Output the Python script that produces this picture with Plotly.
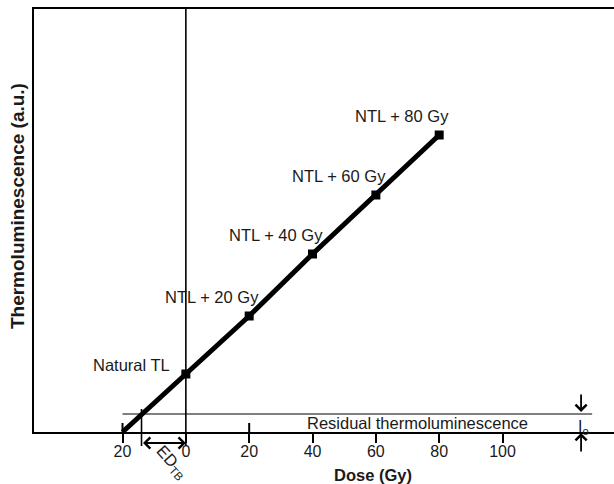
import plotly.graph_objects as go

# ---- data ----
dose_points = [0, 20, 40, 60, 80]                 # Gy added to natural
tl_points = [58, 116, 178, 237, 297]              # thermoluminescence (a.u.)
point_labels = ["Natural TL", "NTL + 20 Gy", "NTL + 40 Gy", "NTL + 60 Gy", "NTL + 80 Gy"]
extrap_dose = [-20, 0]                            # extrapolated line to the dose axis
extrap_tl = [0, 58]
residual_tl = 18                                  # residual thermoluminescence level I_o
ed_tb_dose = -14                                  # ED_TB intercept
tick_vals = [-20, 0, 20, 40, 60, 80, 100]
tick_text = ["20", "0", "20", "40", "60", "80", "100"]

X_RANGE = [-47.95, 135.2]
Y_RANGE = [0, 423]

FONT = "Arial, Liberation Sans, sans-serif"
TXT = "#1a1a1a"


def ypaper(v):
    return (v - Y_RANGE[0]) / (Y_RANGE[1] - Y_RANGE[0])


def xpaper(v):
    return (v - X_RANGE[0]) / (X_RANGE[1] - X_RANGE[0])


fig = go.Figure()

# extrapolated line segment
fig.add_trace(go.Scatter(x=extrap_dose, y=extrap_tl, mode="lines",
                         line=dict(color="black", width=5), hoverinfo="skip"))
# measured growth curve
fig.add_trace(go.Scatter(x=dose_points, y=tl_points, mode="lines+markers",
                         line=dict(color="black", width=5),
                         marker=dict(symbol="square", size=9, color="black")))

shapes = []
# vertical line at dose 0 (full height, extends below axis)
shapes.append(dict(type="line", xref="x", yref="paper", x0=0, x1=0,
                   y0=ypaper(-14), y1=1, line=dict(color="black", width=1.6)))
# residual TL horizontal line
shapes.append(dict(type="line", xref="x", yref="y", x0=-20, x1=128.3,
                   y0=residual_tl, y1=residual_tl, line=dict(color="black", width=1.2)))
# ED_TB bracket vertical
shapes.append(dict(type="line", xref="x", yref="paper", x0=ed_tb_dose, x1=ed_tb_dose,
                   y0=ypaper(-14), y1=ypaper(23), line=dict(color="black", width=1.6)))
# short ticks above the axis at -20 and 20
for tv in [-20, 20]:
    shapes.append(dict(type="line", xref="x", yref="y", x0=tv, x1=tv, y0=0, y1=9,
                       line=dict(color="black", width=2)))

annotations = []
# point labels
for i, (d, t, lab) in enumerate(zip(dose_points, tl_points, point_labels)):
    if i == 0:
        annotations.append(dict(x=d, y=t, xref="x", yref="y", text=lab, showarrow=False,
                                xanchor="right", yanchor="middle", xshift=-14, yshift=9,
                                font=dict(size=16.5, color=TXT, family=FONT)))
    else:
        annotations.append(dict(x=d, y=t, xref="x", yref="y", text=lab, showarrow=False,
                                xanchor="center", yanchor="middle", xshift=-37, yshift=19,
                                font=dict(size=16.5, color=TXT, family=FONT)))

# residual thermoluminescence text
annotations.append(dict(x=73.3, y=9, xref="x", yref="y", text="Residual thermoluminescence",
                        showarrow=False, xanchor="center", yanchor="middle",
                        font=dict(size=16.5, color=TXT, family=FONT)))
# I_o label
annotations.append(dict(x=125.6, y=ypaper(5), xref="x", yref="paper", text="I<sub>o</sub>",
                        showarrow=False, xanchor="center", yanchor="middle",
                        font=dict(size=16, color=TXT, family=FONT)))
# down arrow above residual line
annotations.append(dict(x=124.8, y=ypaper(20), xref="x", yref="paper",
                        ax=0, ay=-19, axref="pixel", ayref="pixel", text="",
                        showarrow=True, arrowhead=4, arrowsize=1.2, arrowwidth=1.8,
                        arrowcolor="black"))
# up arrow below axis
annotations.append(dict(x=124.8, y=ypaper(-1), xref="x", yref="paper",
                        ax=0, ay=20, axref="pixel", ayref="pixel", text="",
                        showarrow=True, arrowhead=4, arrowsize=1.2, arrowwidth=1.8,
                        arrowcolor="black"))
# ED_TB double arrow
annotations.append(dict(x=0, y=ypaper(-11), xref="x", yref="paper",
                        ax=ed_tb_dose, ay=0, axref="x", ayref="pixel", text="",
                        showarrow=True, arrowhead=4, startarrowhead=4, arrowside="end+start",
                        arrowsize=1.2, startarrowsize=1.2, arrowwidth=1.8, arrowcolor="black",
                        standoff=0, startstandoff=0))
# ED_TB text
annotations.append(dict(x=-4.5, y=ypaper(-30), xref="x", yref="paper", text="ED<sub>TB</sub>",
                        showarrow=False, textangle=48, xanchor="center", yanchor="middle",
                        font=dict(size=16.5, color=TXT, family=FONT)))
# axis titles
annotations.append(dict(x=59, y=ypaper(-43), xref="x", yref="paper", text="<b>Dose (Gy)</b>",
                        showarrow=False, xanchor="center", yanchor="middle",
                        font=dict(size=16.5, color=TXT, family=FONT)))
annotations.append(dict(x=xpaper(-53.3), y=ypaper(226), xref="paper", yref="paper",
                        text="<b>Thermoluminescence (a.u.)</b>", textangle=-90,
                        showarrow=False, xanchor="center", yanchor="middle",
                        font=dict(size=19, color=TXT, family=FONT)))

fig.update_layout(
    width=614, height=484,
    margin=dict(l=34, r=0, t=9, b=52),
    paper_bgcolor="white", plot_bgcolor="white",
    showlegend=False,
    font=dict(family=FONT, color=TXT, size=16),
    shapes=shapes, annotations=annotations,
    xaxis=dict(range=X_RANGE, showgrid=False, zeroline=False, showline=True, mirror=True,
               linecolor="black", linewidth=2, ticks="outside", ticklen=9, tickwidth=2,
               tickcolor="black", tickvals=tick_vals, ticktext=tick_text,
               ticklabelstandoff=-5,
               tickfont=dict(size=16, color=TXT, family=FONT)),
    yaxis=dict(range=Y_RANGE, showgrid=False, zeroline=False, showline=True, mirror=False,
               linecolor="black", linewidth=2, showticklabels=False, ticks=""),
)

fig.write_html(
    "out.html",
    config={"displayModeBar": False},
    post_script="document.body.style.margin='0';document.body.style.overflow='hidden';",
)
